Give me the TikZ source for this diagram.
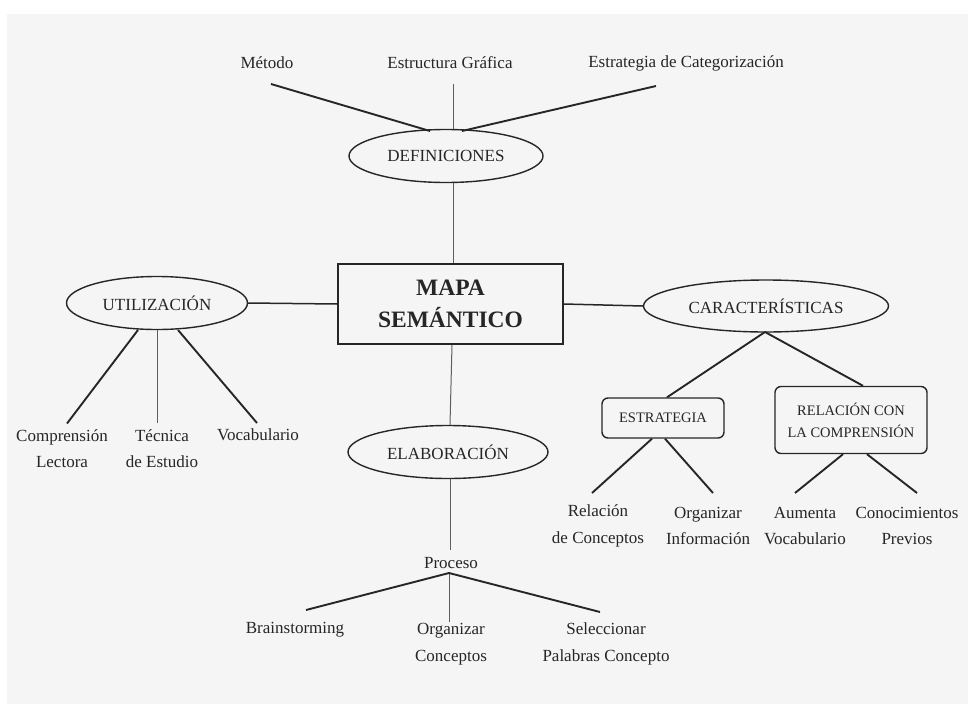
\documentclass[tikz,border=0pt]{standalone}
\usepackage{fontspec}
\setmainfont{Liberation Serif}
\usetikzlibrary{shapes.geometric,calc}
\definecolor{bg}{HTML}{F5F5F5}
\definecolor{ink}{HTML}{262626}
\definecolor{thinink}{HTML}{5E5E5E}
\begin{document}
\begin{tikzpicture}[x=1pt,y=-1pt,
  lbl/.style={font=\fontsize{17}{26.5}\selectfont, text=ink, align=center, inner sep=0},
  oval/.style={ellipse, draw=ink, line width=1.4pt, fill=bg, inner sep=0, font=\fontsize{17}{20}\selectfont, text=ink},
  rbox/.style={rectangle, rounded corners=6pt, draw=ink, line width=1.4pt, fill=bg, inner sep=0, align=center, font=\fontsize{14.5}{22}\selectfont, text=ink},
  mainbox/.style={rectangle, draw=ink, line width=1.5pt, fill=bg, inner sep=0, align=center, font=\fontsize{23.5}{32}\selectfont\bfseries, text=ink},
  conn/.style={draw=ink, line width=1.9pt},
  vconn/.style={draw=thinink, line width=1pt}]
\fill[white] (0,0) rectangle (968,704);
\fill[bg] (7,14) rectangle (968,704);
\useasboundingbox (0,0) rectangle (968,704);

% top
\node[lbl] (metodo) at (267,63) {Método};
\node[lbl] (estruc) at (450,63) {Estructura Gráfica};
\node[lbl] (estcat) at (686,63) {Estrategia de Categorización};
\node[oval, minimum width=194pt, minimum height=53pt] (def) at (446,156) {DEFINICIONES};

% center
\node[mainbox, minimum width=225pt, minimum height=80pt] (mapa) at (450.5,304) {MAPA\\SEMÁNTICO};

% left
\node[oval, minimum width=181pt, minimum height=53pt] (util) at (157,303) {UTILIZACIÓN};
\node[lbl] (comp) at (62,448.5) {Comprensión\\Lectora};
\node[lbl] (tec) at (162,448.5) {Técnica\\de Estudio};
\node[lbl] (voc) at (258,435) {Vocabulario};

% right
\node[oval, minimum width=245pt, minimum height=52pt] (car) at (766,306) {CARACTERÍSTICAS};
\node[rbox, minimum width=122pt, minimum height=40pt] (estr) at (663,418) {ESTRATEGIA};
\node[rbox, minimum width=152pt, minimum height=67pt] (rel) at (851,420) {RELACIÓN CON\\LA COMPRENSIÓN};
\node[lbl] (relc) at (598,526) {Relación\\de Conceptos};
\node[lbl] (orgi) at (708,526) {Organizar\\Información};
\node[lbl] (aum) at (805,526) {Aumenta\\Vocabulario};
\node[lbl] (conp) at (907,526) {Conocimientos\\Previos};

% bottom
\node[oval, minimum width=200pt, minimum height=53pt] (elab) at (448,452) {ELABORACIÓN};
\node[lbl] (proc) at (451,563) {Proceso};
\node[lbl] (brain) at (295,630) {Brainstorming};
\node[lbl] (orgc) at (451,644) {Organizar\\Conceptos};
\node[lbl] (selec) at (606,644) {Seleccionar\\Palabras Concepto};

% connectors
\draw[conn] ($(metodo)+(4,21)$) -- ($(def)+(-16,-25)$);
\draw[vconn] ($(estruc)+(3,21)$) -- ($(def.north)+(7,0.5)$);
\draw[conn] ($(estcat)+(-30,23)$) -- ($(def)+(16,-25)$);
\draw[vconn] ($(def.south)+(7,-0.5)$) -- ($(mapa.north)+(2.5,0)$);

\draw[conn, line width=1.5pt] (util.east) -- (mapa.west);
\draw[conn, line width=1.5pt] (mapa.east) -- (car.west);
\draw[vconn] ($(mapa.south)+(1.5,0)$) -- ($(elab.north)+(2,0)$);

\draw[conn] ($(util)+(-19,27)$) -- ($(comp)+(5,-25)$);
\draw[vconn] ($(util)+(0,27)$) -- ($(tec)+(-5,-26)$);
\draw[conn] ($(util)+(21,27)$) -- ($(voc)+(-1,-12)$);

\draw[conn] ($(car)+(-1,26)$) -- ($(estr.north)+(4,0)$);
\draw[conn] ($(car)+(-1,26)$) -- ($(rel.north)+(12,0)$);
\draw[conn] ($(estr.south)+(-11,0)$) -- ($(relc)+(-6,-33)$);
\draw[conn] ($(estr.south)+(2,0)$) -- ($(orgi)+(5,-33)$);
\draw[conn] ($(rel.south)+(-8,0)$) -- ($(aum)+(-10,-33)$);
\draw[conn] ($(rel.south)+(16,0)$) -- ($(conp)+(10,-33)$);

\draw[vconn] ($(elab.south)+(2,0)$) -- ($(proc)+(-1,-13)$);
\draw[conn] ($(proc)+(-2,10)$) -- ($(brain)+(11,-20)$);
\draw[vconn] ($(proc)+(-2,10)$) -- ($(orgc)+(-2,-22)$);
\draw[conn] ($(proc)+(-2,10)$) -- ($(selec)+(-6,-32)$);
\end{tikzpicture}
\end{document}
